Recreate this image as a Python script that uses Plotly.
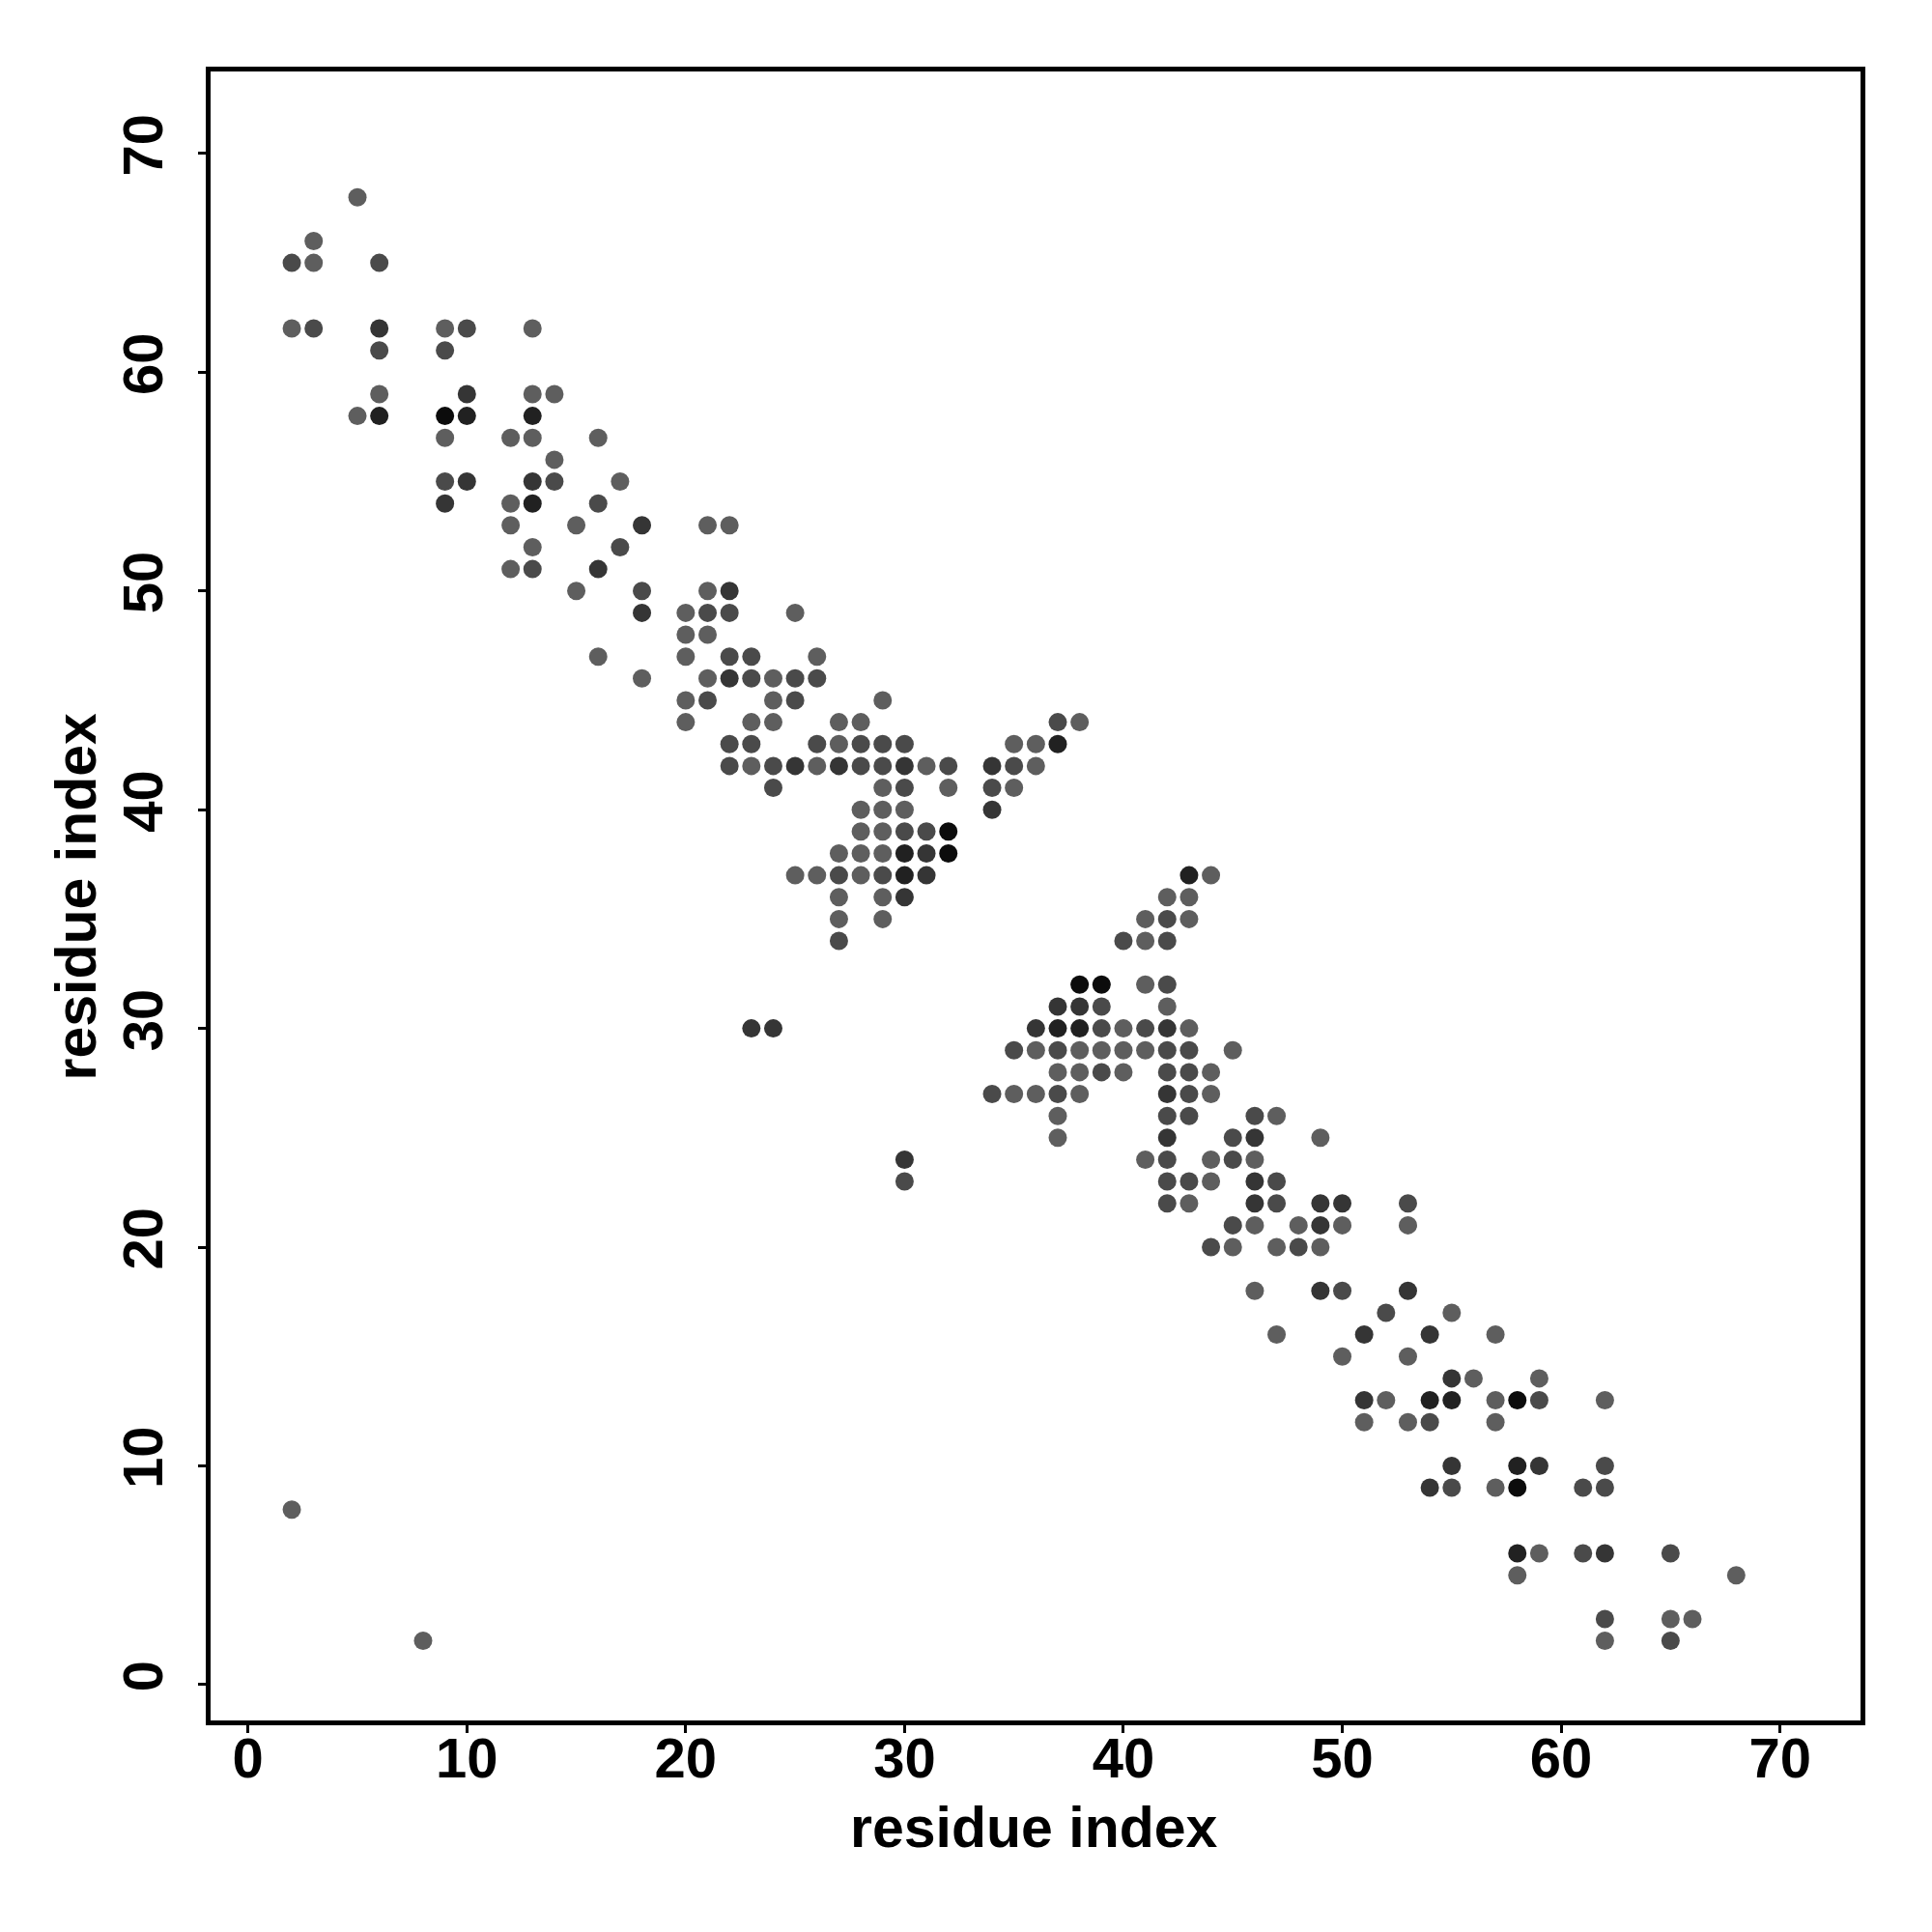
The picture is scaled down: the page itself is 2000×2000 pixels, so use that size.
import plotly.graph_objects as go

# Contact map: residue i, residue j, contact strength level (1 = light grey ... 5 = black)
res_i = [
    5,
    3,
    2, 3, 6,
    2, 3, 6, 9, 10, 13,
    6, 9,
    6, 10, 13, 14,
    5, 6, 9, 10, 13,
    9, 12, 13, 16,
    14,
    9, 10, 13, 14, 17,
    9, 12, 13, 16,
    12, 15, 18, 21, 22,
    13, 17,
    12, 13, 16,
    15, 18, 21, 22,
    18, 20, 21, 22, 25,
    20, 21,
    16, 20, 22, 23, 26,
    18, 21, 22, 23, 24, 25, 26,
    20, 21, 24, 25, 29,
    20, 23, 24, 27, 28, 37, 38,
    22, 23, 26, 27, 28, 29, 30, 35, 36, 37,
    22, 23, 24, 25, 26, 27, 28, 29, 30, 31, 32, 34, 35, 36,
    24, 29, 30, 32, 34, 35,
    28, 29, 30, 34,
    28, 29, 30, 31, 32,
    27, 28, 29, 30, 31, 32,
    25, 26, 27, 28, 29, 30, 31, 43, 44,
    27, 29, 30, 42, 43,
    27, 29, 41, 42, 43,
    27, 40, 41, 42,
    38, 39, 41, 42,
    37, 38, 39, 42,
    23, 24, 36, 37, 38, 39, 40, 41, 42, 43,
    35, 36, 37, 38, 39, 40, 41, 42, 43, 45,
    37, 38, 39, 40, 42, 43, 44,
    34, 35, 36, 37, 38, 42, 43, 44,
    37, 42, 43, 46, 47,
    37, 42, 45, 46, 49,
    30, 41, 42, 44, 45, 46,
    30, 42, 43, 44, 46, 47,
    42, 43, 46, 47, 49, 50, 53,
    45, 46, 48, 49, 50, 53,
    44, 45, 47, 48, 49,
    46, 49, 50, 53,
    52, 55,
    47, 51, 54, 57,
    50, 53,
    55, 56, 59,
    51, 52, 54, 55, 57, 58, 59, 62,
    51, 53, 54, 57,
    55, 58, 59, 62,
    54, 55, 57, 58, 61, 62,
    2,
    58, 59, 61, 62, 65,
    58, 68,
    62, 65, 66,
    8, 62, 65,
]

res_j = [
    68,
    66,
    65, 65, 65,
    62, 62, 62, 62, 62, 62,
    61, 61,
    59, 59, 59, 59,
    58, 58, 58, 58, 58,
    57, 57, 57, 57,
    56,
    55, 55, 55, 55, 55,
    54, 54, 54, 54,
    53, 53, 53, 53, 53,
    52, 52,
    51, 51, 51,
    50, 50, 50, 50,
    49, 49, 49, 49, 49,
    48, 48,
    47, 47, 47, 47, 47,
    46, 46, 46, 46, 46, 46, 46,
    45, 45, 45, 45, 45,
    44, 44, 44, 44, 44, 44, 44,
    43, 43, 43, 43, 43, 43, 43, 43, 43, 43,
    42, 42, 42, 42, 42, 42, 42, 42, 42, 42, 42, 42, 42, 42,
    41, 41, 41, 41, 41, 41,
    40, 40, 40, 40,
    39, 39, 39, 39, 39,
    38, 38, 38, 38, 38, 38,
    37, 37, 37, 37, 37, 37, 37, 37, 37,
    36, 36, 36, 36, 36,
    35, 35, 35, 35, 35,
    34, 34, 34, 34,
    32, 32, 32, 32,
    31, 31, 31, 31,
    30, 30, 30, 30, 30, 30, 30, 30, 30, 30,
    29, 29, 29, 29, 29, 29, 29, 29, 29, 29,
    28, 28, 28, 28, 28, 28, 28,
    27, 27, 27, 27, 27, 27, 27, 27,
    26, 26, 26, 26, 26,
    25, 25, 25, 25, 25,
    24, 24, 24, 24, 24, 24,
    23, 23, 23, 23, 23, 23,
    22, 22, 22, 22, 22, 22, 22,
    21, 21, 21, 21, 21, 21,
    20, 20, 20, 20, 20,
    18, 18, 18, 18,
    17, 17,
    16, 16, 16, 16,
    15, 15,
    14, 14, 14,
    13, 13, 13, 13, 13, 13, 13, 13,
    12, 12, 12, 12,
    10, 10, 10, 10,
    9, 9, 9, 9, 9, 9,
    8,
    6, 6, 6, 6, 6,
    5, 5,
    3, 3, 3,
    2, 2, 2,
]

strength = [
    1,
    1,
    2, 1, 2,
    1, 2, 3, 1, 2, 1,
    2, 2,
    1, 3, 1, 1,
    1, 4, 5, 4, 4,
    1, 1, 1, 1,
    1,
    2, 3, 3, 2, 1,
    3, 1, 4, 2,
    1, 1, 3, 1, 1,
    1, 2,
    1, 2, 3,
    1, 2, 1, 3,
    3, 1, 2, 2, 1,
    1, 1,
    1, 1, 2, 2, 1,
    1, 1, 3, 2, 1, 2, 2,
    1, 2, 1, 2, 1,
    1, 1, 1, 1, 1, 2, 1,
    2, 2, 2, 1, 2, 2, 2, 1, 1, 4,
    2, 1, 2, 3, 1, 3, 2, 2, 3, 1, 2, 3, 2, 1,
    2, 1, 2, 1, 2, 1,
    1, 1, 1, 3,
    1, 1, 2, 2, 5,
    1, 1, 1, 4, 3, 5,
    1, 1, 2, 1, 2, 4, 3, 4, 1,
    1, 1, 3, 1, 1,
    1, 1, 1, 2, 1,
    2, 2, 1, 2,
    5, 5, 1, 2,
    3, 3, 2, 1,
    3, 3, 3, 4, 4, 2, 1, 2, 3, 1,
    2, 1, 2, 1, 1, 1, 1, 2, 2, 1,
    1, 1, 2, 1, 2, 2, 1,
    2, 1, 1, 2, 1, 3, 2, 1,
    1, 2, 2, 2, 1,
    1, 3, 2, 3, 1,
    3, 1, 2, 1, 2, 1,
    2, 2, 2, 1, 3, 2,
    2, 1, 3, 2, 3, 3, 2,
    2, 1, 1, 3, 1, 1,
    2, 1, 1, 2, 1,
    1, 3, 2, 3,
    2, 1,
    1, 3, 3, 1,
    1, 1,
    3, 1, 1,
    3, 1, 4, 4, 1, 5, 2, 1,
    1, 1, 2, 1,
    3, 4, 3, 2,
    3, 2, 1, 5, 2, 2,
    1,
    4, 1, 2, 3, 2,
    1, 1,
    2, 1, 1,
    1, 1, 2,
]

tick_vals = [0, 10, 20, 30, 40, 50, 60, 70]
axis_title = "residue index"

font_family = "Liberation Sans, Arial, Helvetica, sans-serif"
title_font = dict(family=font_family, size=59, color="black", weight="bold")

fig = go.Figure(
    go.Scatter(
        x=res_i,
        y=res_j,
        mode="markers",
        marker=dict(
            size=19,
            color=strength,
            cmin=1,
            cmax=5,
            colorscale=[[0, "rgb(94,94,94)"], [1, "rgb(12,12,12)"]],
            line=dict(width=0),
            showscale=False,
        ),
        showlegend=False,
    )
)

axis_common = dict(
    showgrid=False,
    zeroline=False,
    showline=True,
    linecolor="black",
    linewidth=5,
    mirror=True,
    ticks="outside",
    ticklen=8,
    tickwidth=3,
    tickcolor="black",
    tickvals=tick_vals,
    tickfont=dict(family=font_family, size=58, color="black", weight="bold"),
)

fig.update_xaxes(range=[-1.71, 73.68], ticklabelstandoff=-24, **axis_common)
fig.update_yaxes(range=[-1.64, 73.75], tickangle=-90, ticklabelstandoff=14, **axis_common)

fig.update_layout(
    width=2000,
    height=2000,
    margin=dict(l=210, r=82, t=66, b=227, autoexpand=False),
    plot_bgcolor="white",
    paper_bgcolor="white",
    annotations=[
        dict(text=axis_title, xref="paper", yref="paper", x=0.4994, y=-0.065,
             xanchor="center", yanchor="middle", showarrow=False, font=title_font),
        dict(text=axis_title, xref="paper", yref="paper", x=-0.0811, y=0.4997,
             xanchor="center", yanchor="middle", textangle=-90, showarrow=False, font=title_font),
    ],
)

fig.write_html("out.html")
